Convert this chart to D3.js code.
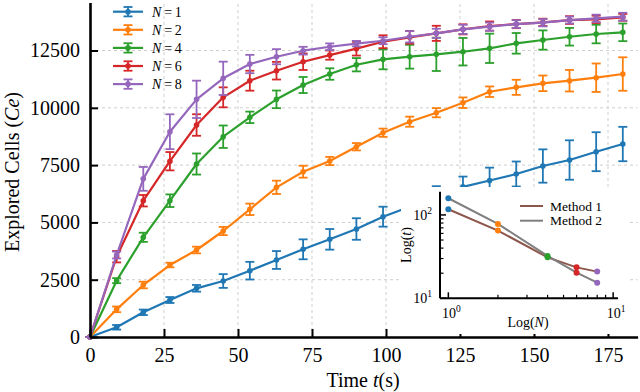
<!DOCTYPE html>
<html>
<head>
<meta charset="utf-8">
<script src="https://cdn.jsdelivr.net/npm/d3@7/dist/d3.min.js"></script>
<style>
  body { margin: 0; background: #fff; }
  text { font-family: "Liberation Serif", serif; fill: #000; }
</style>
</head>
<body>
<div id="grafica"></div>
<script>
// Datos
const times = [0, 9, 18, 27, 36, 45, 54, 63, 72, 81, 90, 99, 108, 117, 126, 135, 144, 153, 162, 171, 180];

const cellsN1 = [0, 423, 1077, 1614, 2124, 2443, 2894, 3360, 3826, 4262, 4712, 5250, 5680, 6120, 6550, 6830, 7112, 7461, 7723, 8085, 8420];
const errN1   = [0, 100, 120, 130, 145, 300, 385, 390, 435, 450, 470, 435, 450, 460, 450, 560, 545, 727, 860, 850, 750];

const cellsN2 = [0, 1207, 2269, 3141, 3796, 4625, 5571, 6531, 7213, 7679, 8303, 8914, 9394, 9787, 10223, 10703, 10895, 11069, 11183, 11314, 11475];
const errN2   = [0, 125, 145, 100, 145, 180, 250, 290, 260, 180, 160, 180, 220, 200, 230, 230, 330, 340, 470, 620, 730];

const cellsN4 = [0, 2458, 4350, 5947, 7548, 8739, 9585, 10370, 10995, 11475, 11880, 12116, 12230, 12334, 12448, 12596, 12814, 12958, 13102, 13220, 13294];
const errN4   = [0, 110, 200, 275, 460, 490, 250, 385, 350, 250, 290, 435, 520, 727, 600, 640, 450, 420, 385, 405, 385];

const cellsN6 = [0, 3504, 5947, 7670, 9250, 10458, 11183, 11620, 12012, 12300, 12580, 12884, 13076, 13250, 13425, 13569, 13656, 13730, 13830, 13860, 13947];
const errN6   = [0, 250, 250, 400, 470, 435, 435, 385, 360, 200, 300, 280, 280, 330, 220, 200, 180, 160, 170, 160, 150];

const cellsN8 = [0, 3578, 6900, 8957, 10370, 11287, 11911, 12230, 12492, 12666, 12800, 12928, 13102, 13250, 13425, 13540, 13656, 13714, 13830, 13905, 13977];
const errN8   = [0, 150, 520, 760, 815, 727, 400, 330, 170, 145, 120, 150, 250, 200, 200, 180, 170, 160, 150, 160, 170];

const seriesN = ["1", "2", "4", "6", "8"];
const colores = ["#1f77b4", "#ff7f0e", "#2ca02c", "#d62728", "#9467bd"];
const valores = [cellsN1, cellsN2, cellsN4, cellsN6, cellsN8];
const errores = [errN1, errN2, errN4, errN6, errN8];

const xTicks = [0, 25, 50, 75, 100, 125, 150, 175];
const yTicks = [0, 2500, 5000, 7500, 10000, 12500];

// Datos del grafico pequeño (log-log)
const insetN = [1, 2, 4, 6, 8];
const method1 = [117, 64.9, 31, 23.5, 20.9];
const method2 = [158.5, 78, 32.2, 20.3, 15.4];
const methodNames = ["Method 1", "Method 2"];
const methodColors = ["#8c564b", "#7f7f7f"];

const W = 640, H = 392;

var svg = d3.select("#grafica")
  .append("svg")
  .attr("width", W)
  .attr("height", H);

const x = d3.scaleLinear().domain([0, 185]).range([90, 637.6]);
const y = d3.scaleLinear().domain([0, 14600]).range([337, 2.4]);

// rejilla discontinua
const grid = svg.append("g");
grid.selectAll(".gx").data(xTicks.slice(1)).join("line")
  .attr("x1", d => x(d)).attr("x2", d => x(d))
  .attr("y1", y(0)).attr("y2", y(14600))
  .attr("stroke", "#cfcfcf").attr("stroke-width", 1).attr("stroke-dasharray", "3,3");
grid.selectAll(".gy").data(yTicks.slice(1)).join("line")
  .attr("x1", x(0)).attr("x2", x(185))
  .attr("y1", d => y(d)).attr("y2", d => y(d))
  .attr("stroke", "#cfcfcf").attr("stroke-width", 1).attr("stroke-dasharray", "3,3");

// series con barras de error
const linea = d3.line().x((d, i) => x(times[i])).y(d => y(d));
const cap = 4.5;

valores.forEach(function(vals, s) {
  const g = svg.append("g");
  const c = colores[s];
  const err = errores[s];
  g.append("path")
    .attr("d", linea(vals))
    .attr("fill", "none")
    .attr("stroke", c)
    .attr("stroke-width", 2.2)
    .attr("stroke-linejoin", "round");
  vals.forEach(function(v, i) {
    const xi = x(times[i]);
    g.append("line")
      .attr("x1", xi).attr("x2", xi)
      .attr("y1", y(v - err[i])).attr("y2", y(v + err[i]))
      .attr("stroke", c).attr("stroke-width", 1.8);
    [v - err[i], v + err[i]].forEach(function(e) {
      g.append("line")
        .attr("x1", xi - cap).attr("x2", xi + cap)
        .attr("y1", y(e)).attr("y2", y(e))
        .attr("stroke", c).attr("stroke-width", 1.8);
    });
    g.append("circle")
      .attr("cx", xi).attr("cy", y(v)).attr("r", 2.8)
      .attr("fill", c);
  });
});

// ejes
const xAxis = svg.append("g")
  .attr("transform", "translate(0," + y(0) + ")")
  .call(d3.axisBottom(x).tickValues(xTicks).tickFormat(d3.format("d"))
    .tickSizeInner(-8).tickSizeOuter(0).tickPadding(11));
const yAxis = svg.append("g")
  .attr("transform", "translate(" + x(0) + ",0)")
  .call(d3.axisLeft(y).tickValues(yTicks).tickFormat(d3.format("d"))
    .tickSizeInner(-8).tickSizeOuter(0).tickPadding(10));

[xAxis, yAxis].forEach(function(a) {
  a.attr("font-family", null).attr("font-size", null);
  a.select(".domain").attr("stroke", "#000").attr("stroke-width", 2.6);
  a.selectAll(".tick line").attr("stroke", "#000").attr("stroke-width", 2);
  a.selectAll(".tick text").style("font-size", "20px").attr("fill", "#000");
});

// etiquetas de los ejes
svg.append("text")
  .attr("x", 363).attr("y", 387)
  .attr("text-anchor", "middle")
  .style("font-size", "20px")
  .html('Time <tspan font-style="italic">t</tspan>(s)');

svg.append("text")
  .attr("transform", "translate(19,172) rotate(-90)")
  .attr("text-anchor", "middle")
  .style("font-size", "20px")
  .html('Explored Cells (<tspan font-style="italic">Ce</tspan>)');

// leyenda principal
seriesN.forEach(function(n, i) {
  const ly = 11.7 + i * 18.1;
  const c = colores[i];
  const lg = svg.append("g");
  lg.append("line").attr("x1", 113).attr("x2", 143).attr("y1", ly).attr("y2", ly)
    .attr("stroke", c).attr("stroke-width", 2.2);
  lg.append("line").attr("x1", 128).attr("x2", 128).attr("y1", ly - 4.7).attr("y2", ly + 4.7)
    .attr("stroke", c).attr("stroke-width", 1.8);
  [ly - 4.7, ly + 4.7].forEach(function(e) {
    lg.append("line").attr("x1", 128 - cap).attr("x2", 128 + cap).attr("y1", e).attr("y2", e)
      .attr("stroke", c).attr("stroke-width", 1.8);
  });
  lg.append("circle").attr("cx", 128).attr("cy", ly).attr("r", 2.8).attr("fill", c);
  lg.append("text").attr("x", 152).attr("y", ly + 5)
    .style("font-size", "14px")
    .html('<tspan font-style="italic">N</tspan>\u2009=\u2009' + n);
});

// grafico pequeño (inset)
svg.append("rect")
  .attr("x", 401).attr("y", 187).attr("width", 227).attr("height", 147)
  .attr("fill", "#fff");

const xi = d3.scaleLog().domain([0.89, 10.7]).range([440, 618]);
const yi = d3.scaleLog().domain([10, 190]).range([298.3, 191.7]);

const lineaInset = d3.line().x((d, i) => xi(insetN[i])).y(d => yi(d));
[method1, method2].forEach(function(m, k) {
  svg.append("path")
    .attr("d", lineaInset(m))
    .attr("fill", "none")
    .attr("stroke", methodColors[k])
    .attr("stroke-width", 2);
});
[method1, method2].forEach(function(m) {
  m.forEach(function(v, i) {
    svg.append("circle")
      .attr("cx", xi(insetN[i])).attr("cy", yi(v)).attr("r", 3)
      .attr("fill", colores[i]);
  });
});

// ejes del inset: solo izquierda y abajo, ticks hacia dentro
const inset = svg.append("g");
inset.append("line").attr("x1", 440).attr("x2", 440).attr("y1", 191.7).attr("y2", 298.3)
  .attr("stroke", "#000").attr("stroke-width", 2);
inset.append("line").attr("x1", 440).attr("x2", 618).attr("y1", 298.3).attr("y2", 298.3)
  .attr("stroke", "#000").attr("stroke-width", 2);

const yMajor = [10, 100];
const yMinor = [20, 30, 40, 50, 60, 70, 80, 90];
const xMajor = [1, 10];
const xMinor = [2, 3, 4, 5, 6, 7, 8, 9];

inset.selectAll(".ym").data(yMajor).join("line")
  .attr("x1", 440).attr("x2", 446).attr("y1", d => yi(d)).attr("y2", d => yi(d))
  .attr("stroke", "#000").attr("stroke-width", 1.5);
inset.selectAll(".yn").data(yMinor).join("line")
  .attr("x1", 440).attr("x2", 443.5).attr("y1", d => yi(d)).attr("y2", d => yi(d))
  .attr("stroke", "#000").attr("stroke-width", 1.2);
inset.selectAll(".xm").data(xMajor).join("line")
  .attr("x1", d => xi(d)).attr("x2", d => xi(d)).attr("y1", 298.3).attr("y2", 292.3)
  .attr("stroke", "#000").attr("stroke-width", 1.5);
inset.selectAll(".xn").data(xMinor).join("line")
  .attr("x1", d => xi(d)).attr("x2", d => xi(d)).attr("y1", 298.3).attr("y2", 294.8)
  .attr("stroke", "#000").attr("stroke-width", 1.2);

inset.selectAll(".yl").data(yMajor).join("text")
  .attr("x", 432).attr("y", d => yi(d) + 5)
  .attr("text-anchor", "end")
  .style("font-size", "14px")
  .html(d => '10<tspan dy="-6" font-size="9.5px">' + Math.round(Math.log10(d)) + '</tspan>');
inset.selectAll(".xl").data(xMajor).join("text")
  .attr("x", d => xi(d) + 3).attr("y", 318)
  .attr("text-anchor", "middle")
  .style("font-size", "14px")
  .html(d => '10<tspan dy="-6" font-size="9.5px">' + Math.round(Math.log10(d)) + '</tspan>');

inset.append("text")
  .attr("x", 528).attr("y", 327)
  .attr("text-anchor", "middle")
  .style("font-size", "14px")
  .html('Log(<tspan font-style="italic">N</tspan>)');
inset.append("text")
  .attr("transform", "translate(411,245) rotate(-90)")
  .attr("text-anchor", "middle")
  .style("font-size", "14px")
  .html('Log(<tspan font-style="italic">t</tspan>)');

// leyenda del inset
methodNames.forEach(function(name, k) {
  const ly = 206 + k * 14.7;
  inset.append("line").attr("x1", 520).attr("x2", 543).attr("y1", ly).attr("y2", ly)
    .attr("stroke", methodColors[k]).attr("stroke-width", 2);
  inset.append("text").attr("x", 550).attr("y", ly + 4.5)
    .style("font-size", "13.5px")
    .text(name);
});
</script>
</body>
</html>
